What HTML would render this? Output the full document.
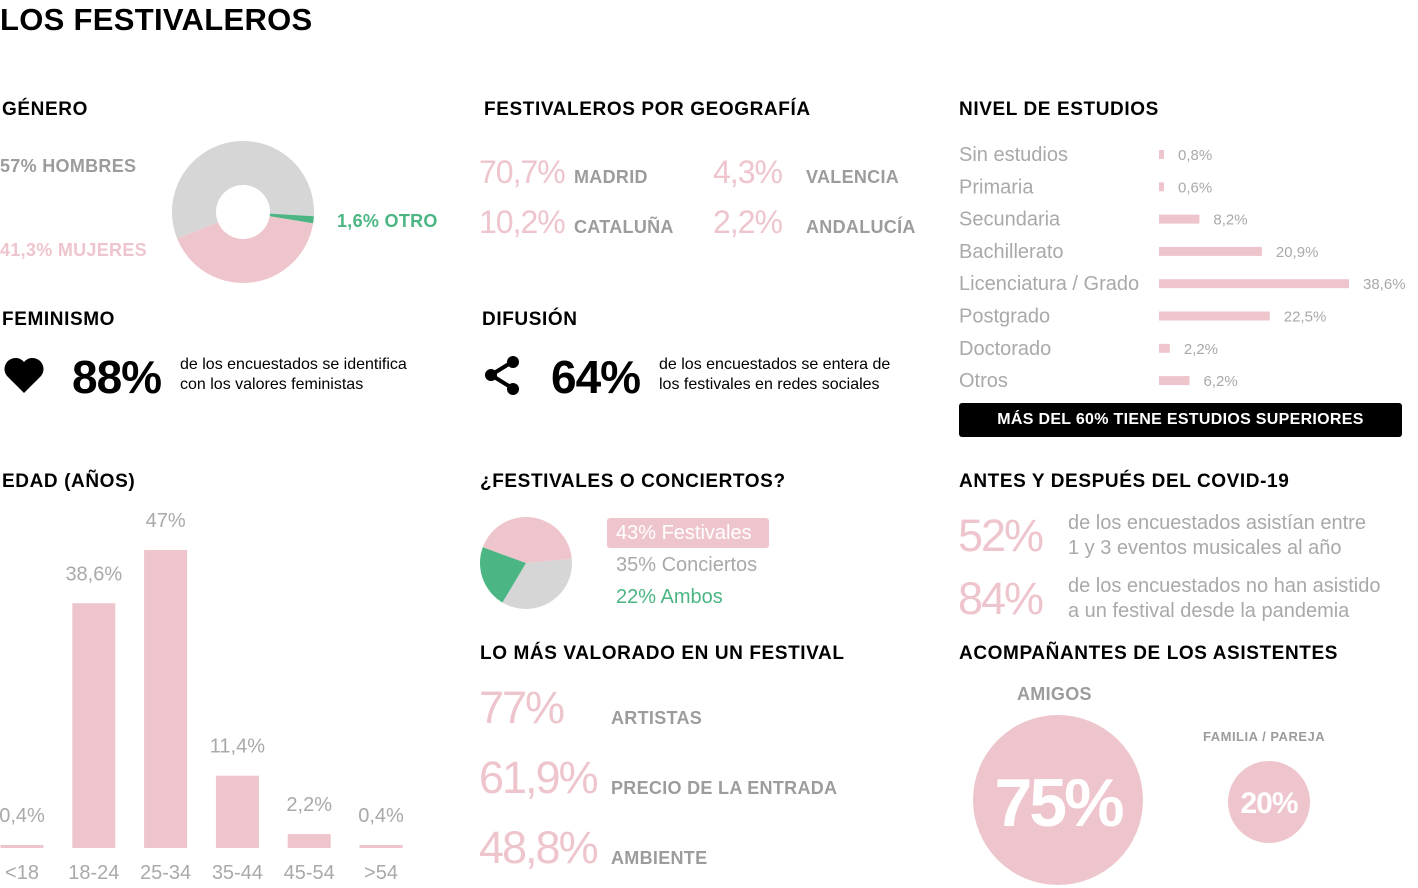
<!DOCTYPE html>
<html><head><meta charset="utf-8"><style>
body{margin:0;width:1418px;height:888px;background:#fff;position:relative;overflow:hidden;font-family:"Liberation Sans",sans-serif}
.a{position:absolute;white-space:nowrap}
.h{font-weight:bold;font-size:19px;letter-spacing:0.6px;color:#000}
.pk{color:#eec5cc}.gr{color:#9c9c9c}.lg{color:#a9a9a9}.gn{color:#4bb583}
.big{font-size:32px;letter-spacing:-1px}
.cap{font-size:18px;letter-spacing:0.3px;font-weight:bold}
.bv{font-size:45px;letter-spacing:-2px}
</style></head><body>
<div class="a" style="left:0;top:2px;font-size:31px;font-weight:bold;letter-spacing:0.3px">LOS FESTIVALEROS</div>

<!-- Genero -->
<div class="a h" style="left:2px;top:99px">GÉNERO</div>
<div class="a gr cap" style="left:0;top:156px">57% HOMBRES</div>
<div class="a pk cap" style="left:0;top:240px">41,3% MUJERES</div>
<div class="a gn cap" style="left:337px;top:211px">1,6% OTRO</div>
<svg class="a" id="donut" style="left:0;top:0" width="460" height="300"></svg>

<!-- Geografia -->
<div class="a h" style="left:484px;top:99px">FESTIVALEROS POR GEOGRAFÍA</div>
<div class="a pk big" style="left:479px;top:154px">70,7%</div>
<div class="a gr cap" style="left:574px;top:167px">MADRID</div>
<div class="a pk big" style="left:713px;top:154px">4,3%</div>
<div class="a gr cap" style="left:806px;top:167px">VALENCIA</div>
<div class="a pk big" style="left:479px;top:204px">10,2%</div>
<div class="a gr cap" style="left:574px;top:217px">CATALUÑA</div>
<div class="a pk big" style="left:713px;top:204px">2,2%</div>
<div class="a gr cap" style="left:806px;top:217px">ANDALUCÍA</div>

<!-- Feminismo -->
<div class="a h" style="left:2px;top:309px">FEMINISMO</div>
<svg class="a" style="left:3px;top:356px" width="42" height="38"><path d="M21 37 L4 20 A10 10 0 0 1 21 6 A10 10 0 0 1 38 20 Z" fill="#000"/></svg>
<div class="a" style="left:72px;top:350px;font-size:46px;font-weight:bold;letter-spacing:-1px">88%</div>
<div class="a" style="left:180px;top:355px;font-size:16px;line-height:20px">de los encuestados se identifica<br>con los valores feministas</div>

<!-- Difusion -->
<div class="a h" style="left:482px;top:309px">DIFUSIÓN</div>
<svg class="a" style="left:482px;top:354px" width="42" height="42"><line x1="30" y1="8" x2="9" y2="21" stroke="#000" stroke-width="4"/><line x1="30" y1="34" x2="9" y2="21" stroke="#000" stroke-width="4"/><circle cx="31" cy="8" r="6"/><circle cx="9" cy="21" r="6"/><circle cx="31" cy="35" r="6"/></svg>
<div class="a" style="left:551px;top:350px;font-size:46px;font-weight:bold;letter-spacing:-1px">64%</div>
<div class="a" style="left:659px;top:355px;font-size:16px;line-height:20px">de los encuestados se entera de<br>los festivales en redes sociales</div>

<!-- Estudios -->
<div class="a h" style="left:959px;top:99px">NIVEL DE ESTUDIOS</div>
<svg class="a" id="edu" style="left:0;top:0" width="1418" height="400"></svg>
<div class="a" style="left:959px;top:403px;width:443px;height:34px;background:#000;border-radius:3px;color:#fff;font-weight:bold;font-size:16px;letter-spacing:0.3px;line-height:34px;text-align:center">MÁS DEL 60% TIENE ESTUDIOS SUPERIORES</div>

<!-- Edad -->
<div class="a h" style="left:2px;top:471px">EDAD (AÑOS)</div>
<svg class="a" id="age" style="left:0;top:480px" width="460" height="408"></svg>

<!-- Festivales o conciertos -->
<div class="a h" style="left:480px;top:471px">¿FESTIVALES O CONCIERTOS?</div>
<svg class="a" id="pie" style="left:470px;top:510px" width="120" height="110"></svg>
<div class="a" style="left:607px;top:518px;width:162px;height:30px;background:#eec5cc;border-radius:3px;color:#fff;font-size:20px;line-height:30px;padding-left:9px;box-sizing:border-box">43% Festivales</div>
<div class="a lg" style="left:616px;top:554px;font-size:20px">35% Conciertos</div>
<div class="a gn" style="left:616px;top:586px;font-size:20px">22% Ambos</div>

<!-- Lo mas valorado -->
<div class="a h" style="left:480px;top:643px">LO MÁS VALORADO EN UN FESTIVAL</div>
<div class="a pk bv" style="left:479px;top:682px">77%</div>
<div class="a gr cap" style="left:611px;top:708px">ARTISTAS</div>
<div class="a pk bv" style="left:479px;top:752px">61,9%</div>
<div class="a gr cap" style="left:611px;top:778px">PRECIO DE LA ENTRADA</div>
<div class="a pk bv" style="left:479px;top:822px">48,8%</div>
<div class="a gr cap" style="left:611px;top:848px">AMBIENTE</div>

<!-- Covid -->
<div class="a h" style="left:959px;top:471px">ANTES Y DESPUÉS DEL COVID-19</div>
<div class="a pk bv" style="left:958px;top:510px">52%</div>
<div class="a lg" style="left:1068px;top:511px;font-size:20px;line-height:25px">de los encuestados asistían entre<br>1 y 3 eventos musicales al año</div>
<div class="a pk bv" style="left:958px;top:573px">84%</div>
<div class="a lg" style="left:1068px;top:574px;font-size:20px;line-height:25px">de los encuestados no han asistido<br>a un festival desde la pandemia</div>

<!-- Acompanantes -->
<div class="a h" style="left:959px;top:643px">ACOMPAÑANTES DE LOS ASISTENTES</div>
<div class="a gr cap" style="left:1017px;top:684px">AMIGOS</div>
<div class="a gr" style="left:1203px;top:729px;font-size:13px;font-weight:bold;letter-spacing:0.5px">FAMILIA / PAREJA</div>
<svg class="a" style="left:950px;top:700px" width="468" height="188">
<circle cx="108" cy="100" r="85" fill="#eec5cc"/>
<text x="108" y="126" text-anchor="middle" font-family="Liberation Sans" font-weight="bold" font-size="68" letter-spacing="-3" fill="#fff">75%</text>
<circle cx="319" cy="102" r="41" fill="#eec5cc"/>
<text x="319" y="113" text-anchor="middle" font-family="Liberation Sans" font-weight="bold" font-size="30" letter-spacing="-1" fill="#fff">20%</text>
</svg>

<script>
const NS='http://www.w3.org/2000/svg';
const PINK='#eec5cc',GRAY='#d6d6d6',GREEN='#4bb583';
// gender data
const genderLabels=['Hombres','Otro','Mujeres'];
const genderValues=[57,1.6,41.3];
// fest/conc data
const pieLabels=['Festivales','Conciertos','Ambos'];
const pieValues=[43,35,22];
// education data
const eduCategories=['Sin estudios','Primaria','Secundaria','Bachillerato','Licenciatura / Grado','Postgrado','Doctorado','Otros'];
const eduValues=[0.8,0.6,8.2,20.9,38.6,22.5,2.2,6.2];
const eduLabels=['0,8%','0,6%','8,2%','20,9%','38,6%','22,5%','2,2%','6,2%'];
// age data
const ageCategories=['<18','18-24','25-34','35-44','45-54','>54'];
const ageValues=[0.4,38.6,47,11.4,2.2,0.4];
const ageLabels=['0,4%','38,6%','47%','11,4%','2,2%','0,4%'];

function mk(tag,attrs,parent){const e=document.createElementNS(NS,tag);for(const k in attrs)e.setAttribute(k,attrs[k]);parent.appendChild(e);return e;}
function arc(cx,cy,r,ri,a0,a1){const p=(a,rr)=>[cx+rr*Math.cos(a*Math.PI/180),cy+rr*Math.sin(a*Math.PI/180)];
 const lg=(a1-a0)>180?1:0;const [x0,y0]=p(a0,r),[x1,y1]=p(a1,r);
 if(ri>0){const [x2,y2]=p(a1,ri),[x3,y3]=p(a0,ri);return `M${x0} ${y0}A${r} ${r} 0 ${lg} 1 ${x1} ${y1}L${x2} ${y2}A${ri} ${ri} 0 ${lg} 0 ${x3} ${y3}Z`;}
 return `M${cx} ${cy}L${x0} ${y0}A${r} ${r} 0 ${lg} 1 ${x1} ${y1}Z`;}

// donut
(function(){const svg=document.getElementById('donut');const cols=[GRAY,GREEN,PINK];
 const tot=genderValues.reduce((a,b)=>a+b,0);let a=158;
 genderValues.forEach((v,i)=>{const s=v/tot*360;const p=mk('path',{d:arc(243,212,71,27,a,a+s),fill:cols[i]},svg);
  
  a+=s;});})();

// pie
(function(){const svg=document.getElementById('pie');const cols=[PINK,GRAY,GREEN];
 const tot=pieValues.reduce((a,b)=>a+b,0);let a=200;
 pieValues.forEach((v,i)=>{const s=v/tot*360;const p=mk('path',{d:arc(56,53,46,0,a,a+s),fill:cols[i]},svg);
  
  a+=s;});})();

// education
(function(){const svg=document.getElementById('edu');const x0=1159,sc=190/38.6,y0=154,step=32.3;
 eduValues.forEach((v,i)=>{const y=y0+i*step;const w=Math.max(5,v*sc);
  const t=mk('text',{x:959,y:y+7,'font-size':20,fill:'#a9a9a9','font-family':'Liberation Sans'},svg);t.textContent=eduCategories[i];
  
  
  const r=mk('rect',{x:x0,y:y-4,width:w,height:9,fill:PINK},svg);
  
  
  const l=mk('text',{x:x0+w+14,y:y+6,'font-size':15,fill:'#a9a9a9','font-family':'Liberation Sans'},svg);l.textContent=eduLabels[i];
  
  });})();

// age
(function(){const svg=document.getElementById('age');const base=368,sc=298/47,bw=43,step=71.8,c0=22;
 ageValues.forEach((v,i)=>{const cx=c0+i*step;const h=Math.max(3,v*sc);
  const r=mk('rect',{x:cx-bw/2,y:base-h,width:bw,height:h,fill:PINK},svg);
  
  
  const l=mk('text',{x:cx,y:base-h-23,'text-anchor':'middle','font-size':20,fill:'#a9a9a9','font-family':'Liberation Sans'},svg);l.textContent=ageLabels[i];
  
  
  const c=mk('text',{x:cx,y:base+31,'text-anchor':'middle','font-size':20,fill:'#a9a9a9','font-family':'Liberation Sans'},svg);c.textContent=ageCategories[i];
  
  });})();
</script>
</body></html>
